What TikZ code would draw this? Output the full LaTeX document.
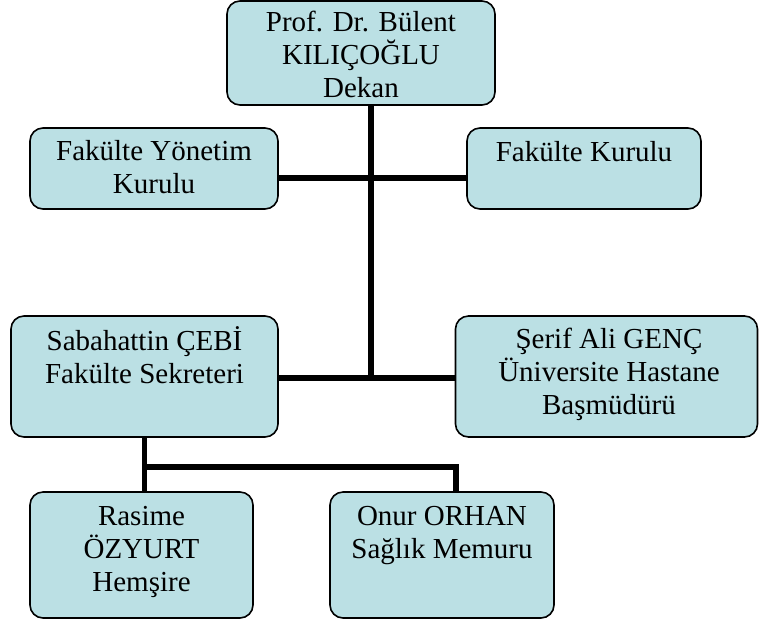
\documentclass[tikz,border=0pt]{standalone}
\usepackage{fontspec}
\setmainfont{Liberation Serif}
\definecolor{boxfill}{RGB}{187,224,228}
\tikzset{
  box/.style={draw=black, line width=1.6pt, fill=boxfill, rounded corners=13pt, inner sep=0pt, anchor=center},
  lbl/.style={anchor=north, align=center, inner sep=0pt, font=\fontsize{29}{33}\selectfont},
  conn/.style={draw=black, line width=5.6pt, line join=miter}
}
\newcommand{\topstrut}{\rule{0pt}{26pt}}
\begin{document}
\begin{tikzpicture}[x=1pt,y=-1pt]
\useasboundingbox (0,0) rectangle (759,625);
% boxes
\node[box, minimum width=268pt, minimum height=104pt] (dekan) at (361,53) {};
\node[box, minimum width=248pt, minimum height=81pt] (fyk) at (154,168.5) {};
\node[box, minimum width=234pt, minimum height=81pt] (fk) at (584,168.5) {};
\node[box, minimum width=267pt, minimum height=121pt] (sab) at (144.5,376.5) {};
\node[box, minimum width=302pt, minimum height=121pt] (ser) at (606.5,376.5) {};
\node[box, minimum width=223pt, minimum height=126pt] (ras) at (141.5,555) {};
\node[box, minimum width=224pt, minimum height=126pt] (onur) at (442,555) {};
% labels
\node[lbl] (dekanT) at (361,5) {\topstrut Prof. Dr. Bülent\\KILIÇOĞLU\\Dekan};
\node[lbl] (fykT) at (154,134) {\topstrut Fakülte Yönetim\\Kurulu};
\node[lbl] (fkT) at (584,135) {\topstrut Fakülte Kurulu};
\node[lbl] (sabT) at (144.5,324) {\topstrut Sabahattin ÇEBİ\\Fakülte Sekreteri};
\node[lbl] (serT) at (609,322) {\topstrut Şerif Ali GENÇ\\Üniversite Hastane\\Başmüdürü};
\node[lbl] (rasT) at (141.5,499) {\topstrut Rasime\\ÖZYURT\\Hemşire};
\node[lbl] (onurT) at (442,499) {\topstrut Onur ORHAN\\Sağlık Memuru};
% junction coordinates
\coordinate (j1) at (371,178);
\coordinate (j2) at (371,378);
\coordinate (j4) at (456,467);
\coordinate (j3) at (sab.south |- j4);
% connectors
\draw[conn] (dekan.south -| j1) -- (j2);
\draw[conn] (fyk.east |- j1) -- (fk.west |- j1);
\draw[conn] (sab.east |- j2) -- (ser.west |- j2);
\draw[conn] (sab.south) -- (j3) -- (j4) -- (onur.north -| j4);
\draw[conn] (j3) -- (ras.north -| j3);
\end{tikzpicture}
\end{document}
